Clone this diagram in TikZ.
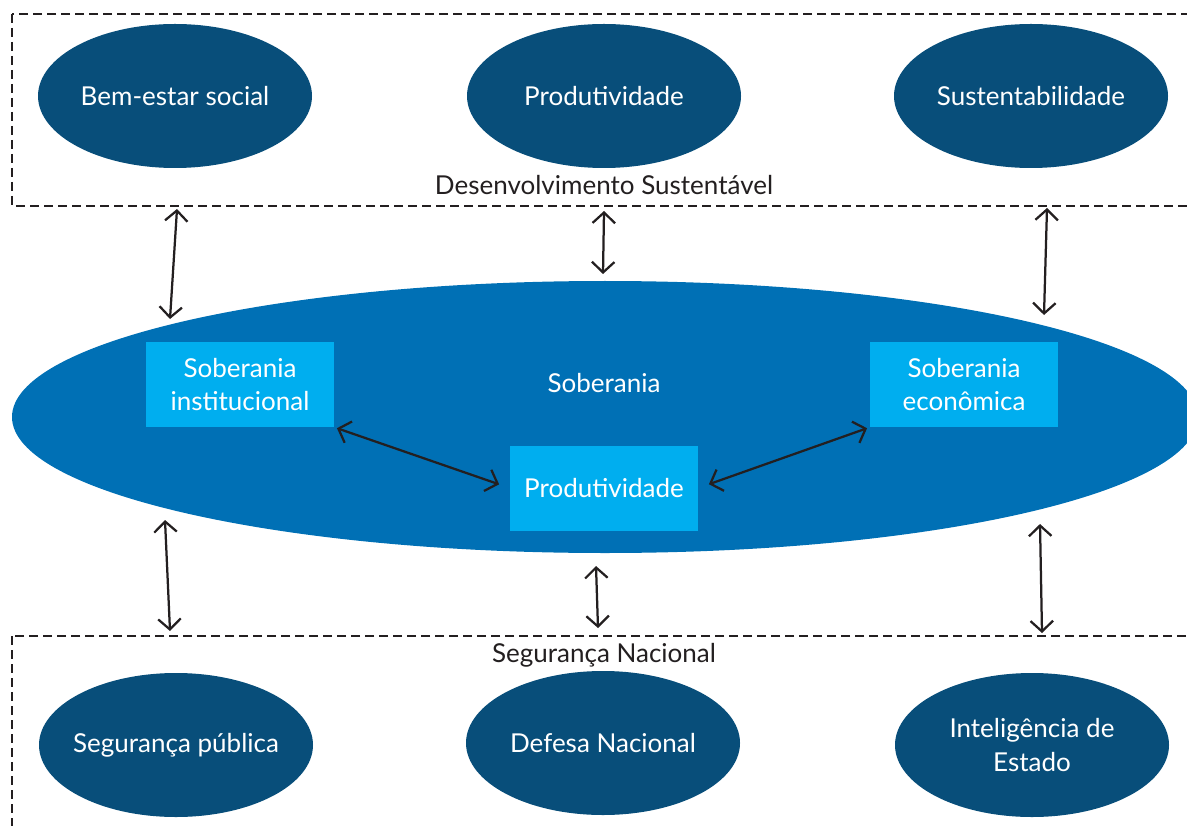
\documentclass[tikz,border=0pt]{standalone}
\usepackage{fontspec}
\setmainfont{Lato}
\usetikzlibrary{shapes.geometric,arrows.meta}
\definecolor{marinho}{HTML}{084E7A}
\definecolor{azul}{HTML}{0070B5}
\definecolor{ciano}{HTML}{00AEEF}
\definecolor{tinta}{HTML}{231F20}
\newcommand{\px}{0.025cm}

\begin{document}
\begin{tikzpicture}[x=\px,y=-\px]
\tikzstyle{pilar}=[ellipse, fill=marinho, text=white, inner ysep=0pt,
			inner xsep=-30*\px,
			minimum width=274*\px, minimum height=144*\px,
			align=center, font=\fontsize{18.5}{23.5}\selectfont]
\tikzstyle{caixa}=[rectangle, fill=ciano, text=white, inner sep=0pt,
			minimum width=188*\px, minimum height=85*\px,
			align=center, font=\fontsize{18.5}{23.5}\selectfont]
\tikzstyle{quadro}=[draw=tinta, line width=1.1pt, dash pattern=on 9*\px off 5*\px]
\tikzstyle{seta}=[draw=tinta, line width=1.6pt,
			{Straight Barb[length=7.5pt,width=16pt]}-{Straight Barb[length=7.5pt,width=16pt]}]
\tikzstyle{rotulo}=[inner sep=0pt, font=\fontsize{18.5}{23.5}\selectfont]

\useasboundingbox (0,0) rectangle (1187,826);
\clip (0,0) rectangle (1187,826);

% os dois quadros tracejados
\draw[quadro] (12,14) rectangle (1200,206);
\draw[quadro] (12,636) rectangle (1200,840);

% soberania
\node[ellipse, fill=azul, inner sep=0pt, minimum width=1186*\px,
	minimum height=272*\px] (sob) at (605,417) {};
\node[rotulo, text=white] (soblbl) at (604,383) {Soberania};

\node[caixa] (inst) at (240,384.5) {Soberania\\institucional};
\node[caixa] (econ) at (964,384.5) {Soberania\\econômica};
\node[caixa] (prod) at (604,488) {Produtividade};

\draw[seta, shorten <=2pt, shorten >=8pt] (inst.south east) -- (prod.west);
\draw[seta, shorten <=8pt, shorten >=2pt] (prod.east) -- (econ.south west);

% desenvolvimento sustentavel
\node[pilar] (bem) at (175,96) {Bem-estar social};
\node[pilar] (prodt) at (604,96) {Produtividade};
\node[pilar] (sust) at (1031,96) {Sustentabilidade};
\node[rotulo, text=tinta] (dslbl) at (604,185) {Desenvolvimento Sustentável};

% seguranca nacional
\node[pilar] (segp) at (176,745) {Segurança pública};
\node[pilar] (defn) at (603,743) {Defesa Nacional};
\node[pilar] (intel) at (1032,745) {Inteligência de\\Estado};
\node[rotulo, text=tinta] (snlbl) at (604,655) {Segurança Nacional};

% pontas das setas verticais
\coordinate (a1) at (177,209);
\coordinate (b1) at (170,319);
\coordinate (a2) at (604,211);
\coordinate (b2) at (603,274);
\coordinate (a3) at (1047,208);
\coordinate (b3) at (1044,315);
\coordinate (c1) at (165,520);
\coordinate (d1) at (170,631);
\coordinate (c2) at (596,566);
\coordinate (d2) at (598,628);
\coordinate (c3) at (1040,524);
\coordinate (d3) at (1042,633);

\foreach \i in {1,2,3} {
	\draw[seta] (a\i) -- (b\i);
	\draw[seta] (c\i) -- (d\i);
}

\end{tikzpicture}
\end{document}
